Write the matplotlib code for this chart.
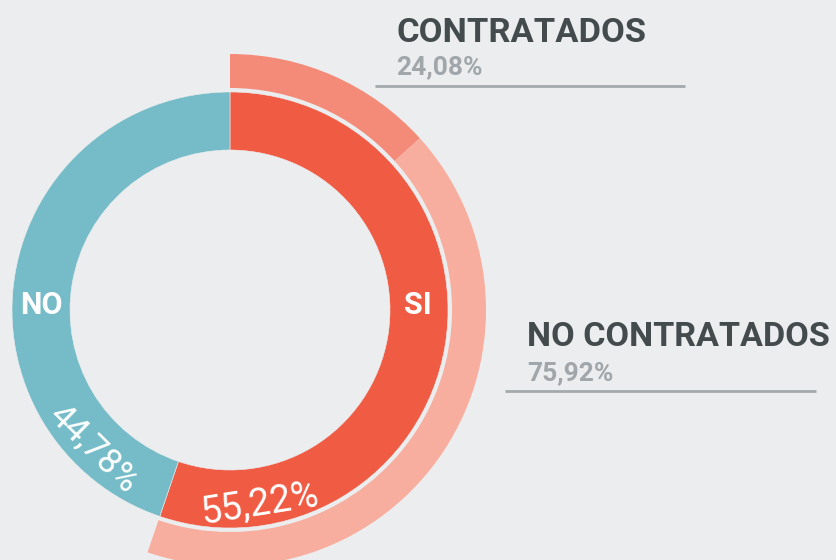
import matplotlib.pyplot as plt

# data
inner_labels = ["SI", "NO"]
inner_values = [55.22, 44.78]
inner_colors = ["#F05B43", "#76BCC8"]

outer_labels = ["CONTRATADOS", "NO CONTRATADOS"]
outer_values = [24.08, 75.92]   # share of the "SI" group
outer_colors = ["#F48B79", "#F8AE9F"]

bg = "#ECEDEF"
dark = "#434B4C"
grey = "#A0A6A9"

fig = plt.figure(figsize=(8.36, 5.6), dpi=100, facecolor=bg)
ax = fig.add_axes([0, 0, 1, 1])
ax.set_facecolor(bg)

# inner ring
ax.pie(inner_values, radius=218, startangle=90, counterclock=False,
       colors=inner_colors,
       wedgeprops=dict(width=58, edgecolor=bg, linewidth=0.4))

# outer ring only covers the SI part, the rest is left invisible
si = inner_values[0]
outer_parts = [si * v / 100 for v in outer_values] + [inner_values[1]]
wedges, _ = ax.pie(outer_parts, radius=256, startangle=90, counterclock=False,
                   colors=outer_colors + [bg],
                   wedgeprops=dict(width=34, linewidth=0))
wedges[-1].set_visible(False)

# 1 data unit = 1 pixel, donut centre at (0, 0) -- set after pie (pie resets limits)
ax.set_xlim(-230, 606)
ax.set_ylim(-250, 310)
ax.set_aspect("equal")
ax.axis("off")

font = "Roboto"

# labels inside the ring
ax.text(-189, 5, "NO", color="white", fontsize=22, fontweight="bold",
        family=font, ha="center", va="center")
ax.text(188, 5, "SI", color="white", fontsize=22, fontweight="bold",
        family=font, ha="center", va="center")
ax.text(-136, -138, "44,78%", color="white", fontsize=25,
        family=font, ha="center", va="center", rotation=-44.5)
ax.text(30, -194, "55,22%", color="white", fontsize=27,
        family=font, ha="center", va="center", rotation=9)

# annotations on the right
ax.text(166, 268, outer_labels[0], color=dark, fontsize=24.8, fontweight="bold",
        family=font, ha="left", va="baseline")
ax.text(166, 236, "24,08%", color=grey, fontsize=19, fontweight="bold",
        family=font, ha="left", va="baseline")
ax.plot([145, 455], [224, 224], color="#A4A9AC", lw=2, solid_capstyle="butt")

ax.text(297, -36, outer_labels[1], color=dark, fontsize=24.6, fontweight="bold",
        family=font, ha="left", va="baseline")
ax.text(297, -70, "75,92%", color=grey, fontsize=19, fontweight="bold",
        family=font, ha="left", va="baseline")
ax.plot([275, 586], [-81, -81], color="#A4A9AC", lw=2, solid_capstyle="butt")

fig.savefig("out.png", dpi=100, facecolor=bg)
